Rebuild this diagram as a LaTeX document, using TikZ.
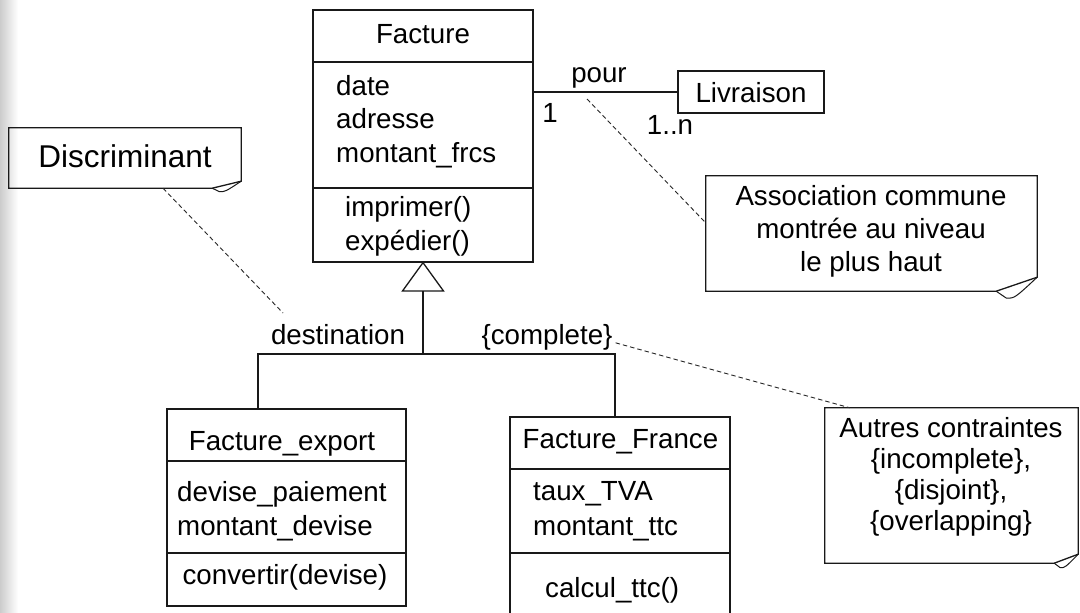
\documentclass[tikz,border=0pt]{standalone}
\usepackage{fontspec}
\setmainfont{Liberation Sans}
\usetikzlibrary{calc}

% rows of text whose first baseline is the box baseline
\newcommand{\txtrows}[3][l]{{\fontsize{27.7}{#2}\selectfont\begin{tabular}[t]{@{}#1@{}}#3\end{tabular}}}

\tikzset{
  txt/.style={inner sep=0pt, font=\fontsize{27.7}{33}\selectfont, text=black},
  boxline/.style={draw=black!90, line width=1.3pt},
  classbox/.style={boxline, rectangle, inner sep=0pt},
  notebox/.style={draw=none, rectangle, inner sep=0pt},
  noteline/.style={dashed, dash pattern=on 4.5pt off 3pt, line width=0.9pt, draw=black!85},
}

% folded-corner outline of a note node: #1 name, #2 fold width, #3 fold height
\newcommand{\foldnote}[3]{%
  \draw[boxline, line join=miter]
    (#1.north west) -- (#1.north east) -- ([yshift=#3]#1.south east)
    -- ([xshift=-#2]#1.south east) -- (#1.south west) -- cycle;
  \draw[boxline, line width=1pt]
    ([xshift=-#2]#1.south east) -- ($([xshift=-#2]#1.south east)!0.25!([yshift=#3]#1.south east)+(0,-#3*0.75)$)
    .. controls ($([xshift=-#2]#1.south east)!0.45!([yshift=#3]#1.south east)+(0,-#3*0.95)$)
    .. ([yshift=#3]#1.south east);
}

\begin{document}
\begin{tikzpicture}[x=1pt, y=-1pt]
  \useasboundingbox (0,0) rectangle (1080,613);
  \fill[white] (0,0) rectangle (1080,613);
  \shade[left color=black!20, right color=white] (0,0) rectangle (18,613);

  \begin{scope}
  \clip (0,0) rectangle (1080,613);

  % ---------- class Facture ----------
  \node[classbox, minimum width=220pt, minimum height=252pt] (facture) at (423,136) {};
  \draw[boxline] (facture.west |- 0,62) -- (facture.east |- 0,62);
  \draw[boxline] (facture.west |- 0,188) -- (facture.east |- 0,188);
  \node[txt, anchor=base] (factureName) at (423,43) {Facture};
  \node[txt, anchor=base west] (factureAttr) at (336,95)
    {\txtrows{33.5}{date\\adresse\\montant\_frcs}};
  \node[txt, anchor=base west] (factureOps) at (345,216)
    {\txtrows{34}{imprimer()\\exp\'edier()}};

  % ---------- class Livraison and association ----------
  \node[classbox, minimum width=146pt, minimum height=42pt] (livraison) at (751,92) {};
  \node[txt, anchor=base] (livraisonName) at (751,102) {Livraison};
  \draw[boxline, line width=1.1pt] (facture.east |- livraison.west) -- (livraison.west);
  \node[txt, anchor=base] (pour) at (599,82) {pour};
  \node[txt, anchor=base] (multOne) at (550,122) {1};
  \node[txt, anchor=base] (multMany) at (670,134) {1..n};

  % ---------- generalization ----------
  \coordinate (triBase) at (423,291);
  \coordinate (split) at (423,354);
  \draw[boxline, fill=white, line join=miter]
    (facture.south) -- ([xshift=20.5pt]triBase) -- ([xshift=-20.5pt]triBase) -- cycle;
  \draw[boxline, line width=1.1pt] (triBase) -- (split);

  % ---------- class Facture_export ----------
  \node[classbox, minimum width=239pt, minimum height=197pt] (export) at (286.5,507.5) {};
  \draw[boxline] (export.west |- 0,461) -- (export.east |- 0,461);
  \draw[boxline] (export.west |- 0,553) -- (export.east |- 0,553);
  \node[txt, anchor=base] (exportName) at (282,450) {Facture\_export};
  \node[txt, anchor=base west] (exportAttr) at (177,501)
    {\txtrows{34}{devise\_paiement\\montant\_devise}};
  \node[txt, anchor=base] (exportOps) at (285,584) {convertir(devise)};

  % ---------- class Facture_France ----------
  \node[classbox, minimum width=220pt, minimum height=220pt] (france) at (620,527) {};
  \draw[boxline] (france.west |- 0,469) -- (france.east |- 0,469);
  \draw[boxline] (france.west |- 0,553) -- (france.east |- 0,553);
  \node[txt, anchor=base] (franceName) at (620.5,448) {Facture\_France};
  \node[txt, anchor=base west] (franceAttr) at (533,500)
    {\txtrows{35}{taux\_TVA\\montant\_ttc}};
  \node[txt, anchor=base west] (franceOps) at (545,597) {calcul\_ttc()};

  % ---------- subclass branches ----------
  \draw[boxline, line width=1.1pt] (split) -| ([xshift=-28.5pt]export.north);
  \draw[boxline, line width=1.1pt] (split) -| ([xshift=-5pt]france.north);
  \node[txt, anchor=base] (destination) at (338,344) {destination};
  \node[txt, anchor=base] (complete) at (547,344) {\{complete\}};

  % ---------- notes ----------
  \node[notebox, minimum width=232pt, minimum height=60pt] (discNote) at (125,158) {};
  \foldnote{discNote}{29pt}{7pt}
  \node[txt, anchor=base, font=\fontsize{31.5}{36}\selectfont] (discText) at (125,167) {Discriminant};
  \coordinate (discEnd) at (283,313);
  \draw[noteline] ([xshift=38pt]discNote.south) -- (discEnd);

  \node[notebox, minimum width=331pt, minimum height=115pt] (assocNote) at (871.5,233.5) {};
  \foldnote{assocNote}{41pt}{14pt}
  \node[txt, anchor=base] (assocText) at (871,205)
    {\txtrows[c]{33}{Association commune\\montr\'ee au niveau\\le plus haut}};
  \coordinate (assocStart) at (587,99);
  \draw[noteline] (assocStart) -- ([yshift=10.5pt]assocNote.west);

  \node[notebox, minimum width=253pt, minimum height=155pt] (otherNote) at (951.5,485.5) {};
  \foldnote{otherNote}{24pt}{9pt}
  \node[txt, anchor=base] (otherText) at (951,437)
    {\txtrows[c]{31.3}{Autres contraintes\\\{incomplete\},\\\{disjoint\},\\\{overlapping\}}};
  \draw[noteline] ([xshift=3pt, yshift=-6pt]complete.east) -- ([xshift=25pt]otherNote.north west);
  \end{scope}
\end{tikzpicture}
\end{document}
